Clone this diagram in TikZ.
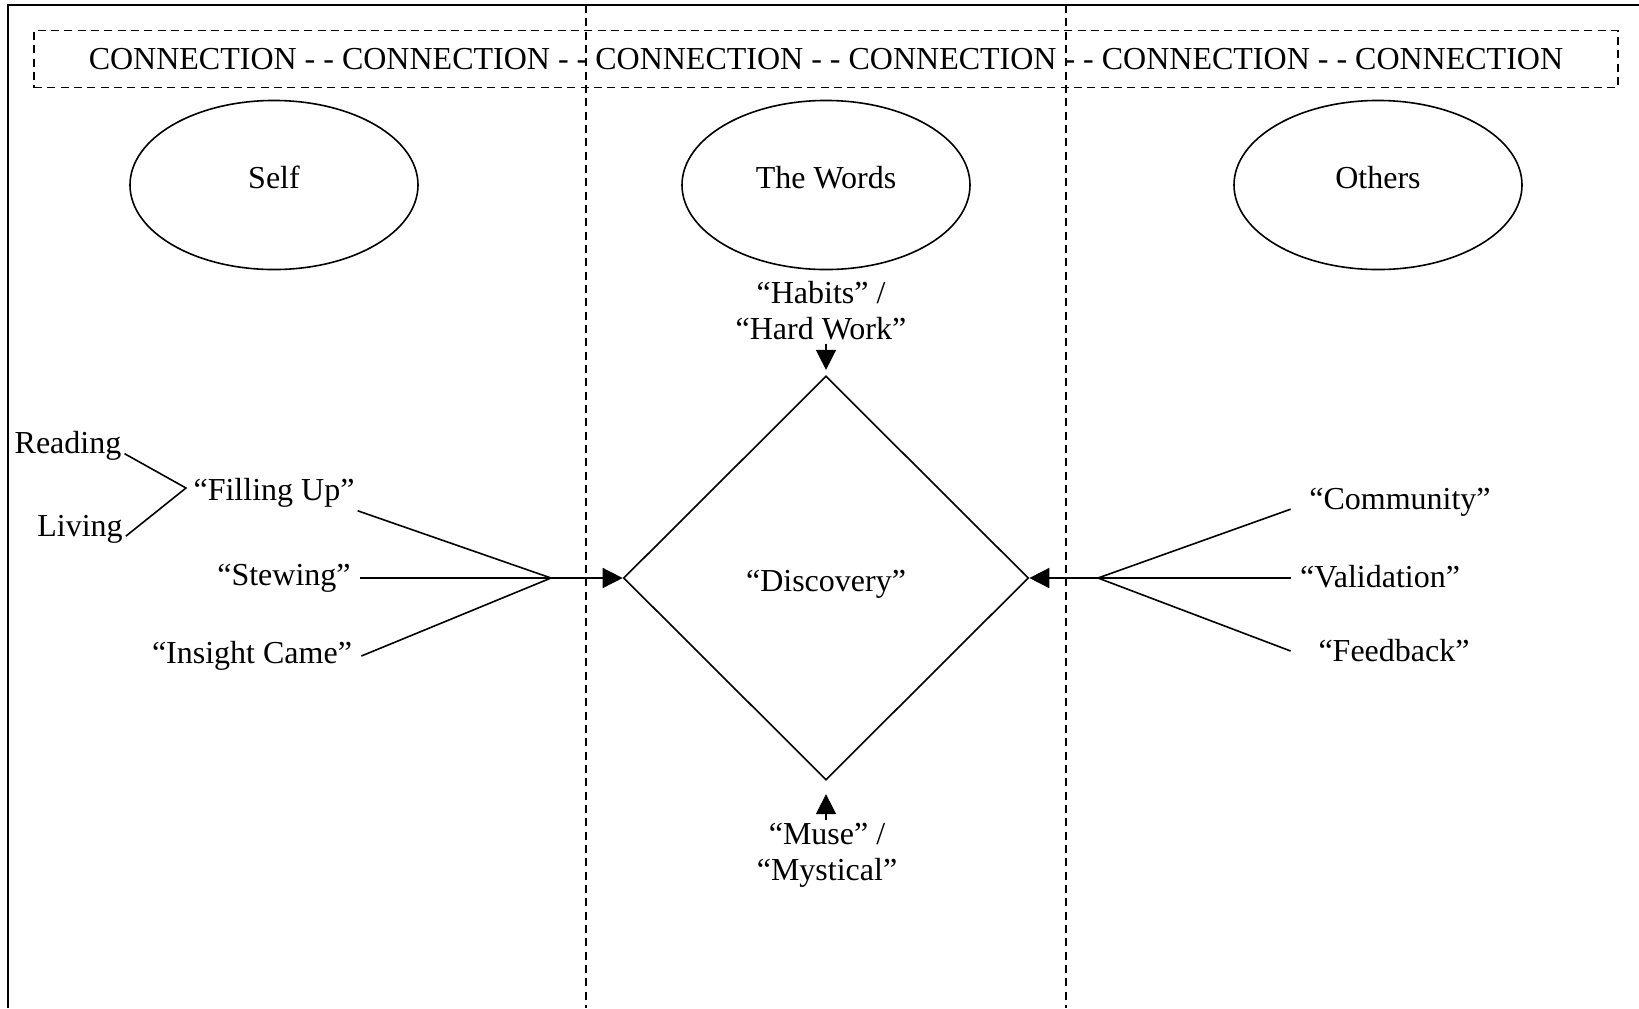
\documentclass[tikz,border=0pt]{standalone}
\usepackage{fontspec}
\setmainfont{Liberation Serif}
\usetikzlibrary{shapes.geometric,arrows.meta}
\begin{document}
\begin{tikzpicture}[
            x=0.375pt, y=-0.375pt,
            every node/.style={font=\fontsize{12}{13.5}\selectfont},
            part/.style={ellipse,draw,line width=0.6pt,minimum width=108pt,minimum height=63.4pt,text depth=5.5pt},
            word/.style={inner sep=1pt},
            link/.style={line width=0.6pt},
            feed/.style={link,-{Triangle[length=7.5pt,width=7.5pt]}},
            lane/.style={line width=0.6pt,dash pattern=on 3pt off 2pt}
        ]
        \useasboundingbox (0,0) rectangle (1639,1008);
        % frame and lanes
        \draw[line width=0.75pt] (8,1008) -- (8,5) -- (1639,5);
        \draw[lane] (586,5) -- (586,1008);
        \draw[lane] (1066,5) -- (1066,1008);
        \node[draw,lane,minimum width=594pt,minimum height=21.4pt] (conn) at (826,59)
            {CONNECTION - - CONNECTION - - CONNECTION - - CONNECTION - - CONNECTION - - CONNECTION};
        % the three parts
        \node[part] (self) at (274,185) {Self};
        \node[part] (words) at (826,185) {The Words};
        \node[part] (others) at (1378,185) {Others};
        % discovery
        \node[diamond,draw,link,minimum width=151.9pt,minimum height=151.5pt,inner sep=0pt,text height=13pt] (disc) at (826,578) {“Discovery”};
        \node[align=center,inner sep=1pt] (habits) at (821,311) {“Habits” /\\“Hard Work”};
        \node[align=center,inner sep=1pt] (muse) at (827,855) {“Muse” /\\“Mystical”};
        \draw[feed,shorten >=2pt] (disc.north |- habits.south) -- (disc.north);
        \draw[feed,shorten >=5pt] (disc.south |- muse.north) -- (disc.south);
        % self side
        \node[word] (reading) at (68,446) {Reading};
        \node[word] (living) at (80,529) {Living};
        \coordinate (fork) at (186,488);
        \node[word] (filling) at (274,493) {“Filling Up”};
        \node (stewing) at (284,578) {“Stewing”};
        \node (insight) at (252,656) {“Insight Came”};
        \coordinate (inflow) at (551,578);
        \draw[link] (reading.base east) -- (fork) -- (living.base east);
        \draw[link] (filling.south east) -- (inflow);
        \draw[link] (stewing.east |- inflow) -- (inflow);
        \draw[link] (insight.east) -- (inflow);
        \draw[feed] (inflow) -- (disc.west);
        % others side
        \node (community) at (1400,502) {“Community”};
        \node (validation) at (1380,577) {“Validation”};
        \node (feedback) at (1394,651) {“Feedback”};
        \coordinate (outflow) at (1098,578);
        \draw[link] (validation.west |- community.base) -- (outflow);
        \draw[link] (validation.west |- outflow) -- (outflow);
        \draw[link] (validation.west |- feedback.west) -- (outflow);
        \draw[feed] (outflow) -- (disc.east);
    \end{tikzpicture}
\end{document}
